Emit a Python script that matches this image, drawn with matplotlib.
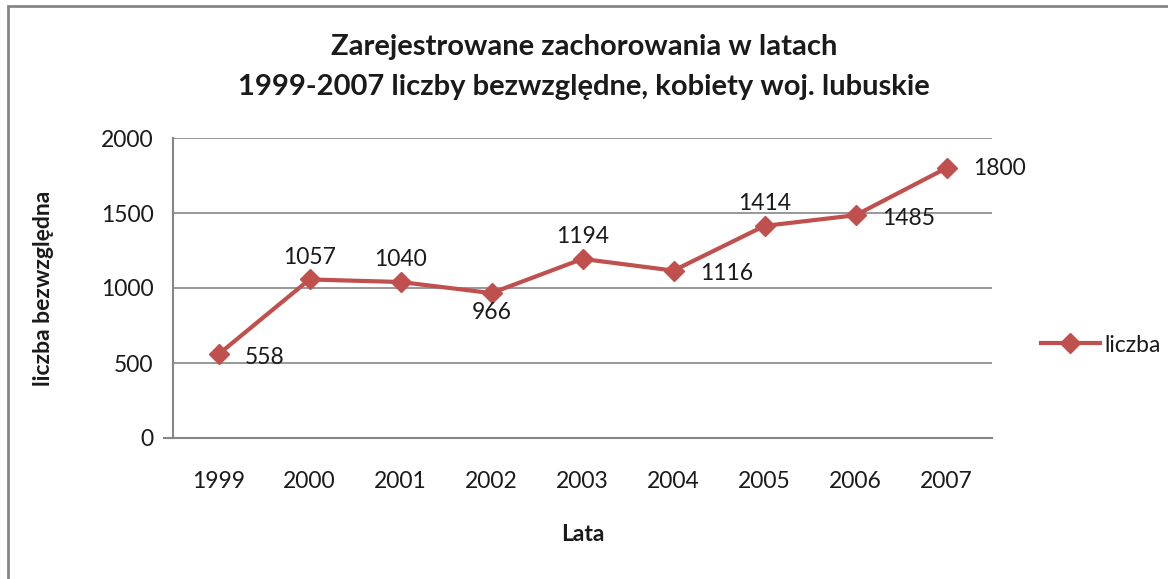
"""Zarejestrowane zachorowania 1999-2007, kobiety, woj. lubuskie."""

import matplotlib
matplotlib.use("Agg")
import matplotlib.pyplot as plt
from matplotlib.patches import Rectangle

YEARS = ["1999", "2000", "2001", "2002", "2003", "2004", "2005", "2006", "2007"]
CASES = [558, 1057, 1040, 966, 1194, 1116, 1414, 1485, 1800]
Y_TICKS = [0, 500, 1000, 1500, 2000]

# Data label offsets (points) roughly matching the Excel placement.
LABEL_OFFSETS = [
    ((19, -2), "left"),
    ((0, 16), "center"),
    ((0, 16), "center"),
    ((0, -14), "center"),
    ((0, 16), "center"),
    ((19, -2), "left"),
    ((0, 16), "center"),
    ((19, -2), "left"),
    ((19, 0), "left"),
]

LINE_COLOR = "#C0504D"
GRID_COLOR = "#868686"
TEXT_COLOR = "#1A1A1A"

plt.rcParams["font.family"] = ["Lato", "DejaVu Sans"]

fig = plt.figure(figsize=(11.68, 5.79), dpi=100)
ax = fig.add_axes([173 / 1168, 1 - 438 / 579, 819 / 1168, 300 / 579])

x = [i + 0.5 for i in range(len(YEARS))]
line, = ax.plot(x, CASES, color=LINE_COLOR, linewidth=3, marker="D",
                markersize=10, label="liczba", solid_joinstyle="round")

for xi, value, (offset, ha) in zip(x, CASES, LABEL_OFFSETS):
    ax.annotate(str(value), (xi, value), xytext=offset, textcoords="offset points",
                ha=ha, va="center", fontsize=16.5, color=TEXT_COLOR)

ax.set_xlim(0, len(YEARS))
ax.set_ylim(0, 2000)
ax.set_yticks(Y_TICKS)
ax.set_xticks(x)
ax.set_xticklabels(YEARS)
ax.tick_params(axis="both", length=0, labelsize=16.5, colors=TEXT_COLOR)
ax.tick_params(axis="x", pad=24)
ax.tick_params(axis="y", pad=14)
ax.yaxis.grid(True, color=GRID_COLOR, linewidth=1.2)
ax.set_axisbelow(True)
for side in ["top", "right"]:
    ax.spines[side].set_visible(False)
ax.spines["left"].set_color(GRID_COLOR)
ax.spines["bottom"].set_color(GRID_COLOR)
ax.spines["left"].set_linewidth(1.5)
ax.spines["bottom"].set_linewidth(1.5)
ax.plot([-0.1, 0], [0, 0], color=GRID_COLOR, linewidth=1.5, clip_on=False)

ax.set_xlabel("Lata", fontsize=16.5, fontweight="bold", color=TEXT_COLOR, labelpad=23)
ax.set_ylabel("liczba bezwzględna", fontsize=16.5, fontweight="bold",
              color=TEXT_COLOR, labelpad=34)

fig.text(0.5, 1 - 47 / 579, "Zarejestrowane zachorowania w latach",
         ha="center", va="center", fontsize=21, fontweight="bold", color=TEXT_COLOR)
fig.text(0.5, 1 - 87 / 579, "1999-2007 liczby bezwzględne, kobiety woj. lubuskie",
         ha="center", va="center", fontsize=21, fontweight="bold", color=TEXT_COLOR)

fig.legend(handles=[line], loc="center left", bbox_to_anchor=(1020 / 1168, 1 - 345 / 579),
           frameon=False, fontsize=16.5, handlelength=2.6, handletextpad=0.2,
           labelcolor=TEXT_COLOR)

fig.patches.append(Rectangle((8 / 1168, -0.05), 1.2, 1 - 6 / 579 + 0.05,
                             transform=fig.transFigure, fill=False,
                             edgecolor=GRID_COLOR, linewidth=2))

fig.savefig("out.png", dpi=100)
